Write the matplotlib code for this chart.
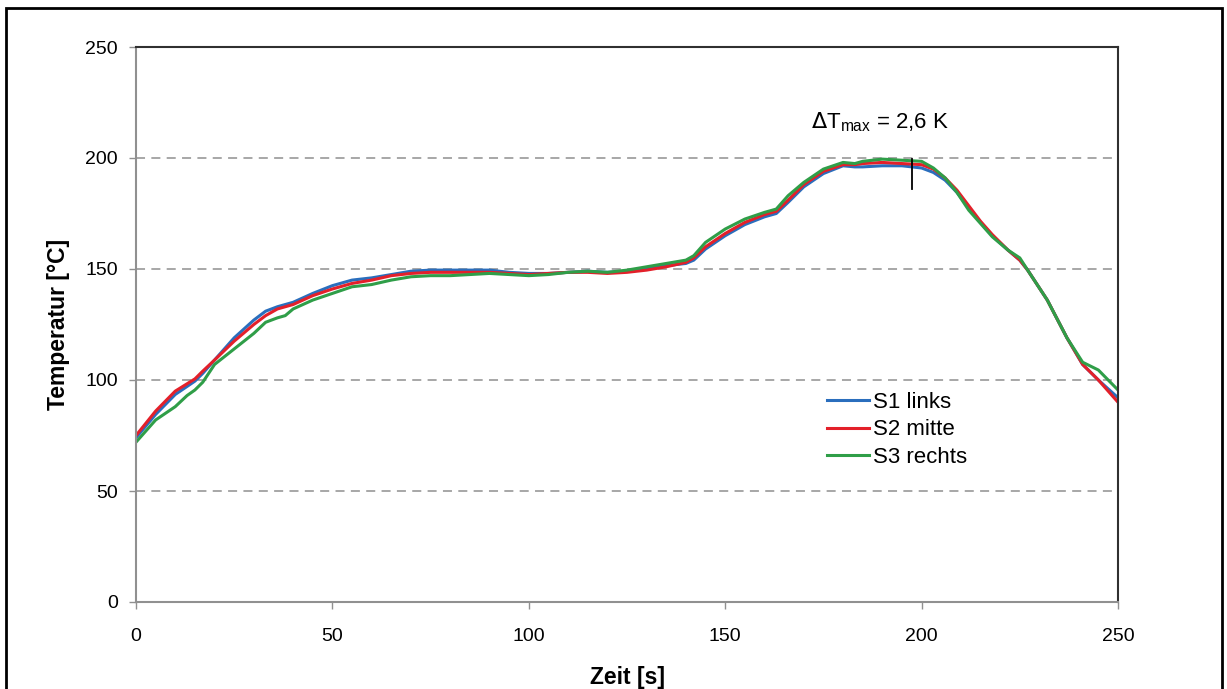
import numpy as np
import matplotlib
matplotlib.use("Agg")
import matplotlib.pyplot as plt
from matplotlib.patches import Rectangle

plt.rcParams['font.family'] = ['Liberation Sans', 'DejaVu Sans']

######## DATA

t1 = [0, 5, 10, 15, 17, 20, 25, 30, 33, 36, 40, 45, 50, 55, 60, 65, 70, 75, 80, 85, 90, 95,
      100, 105, 110, 115, 120, 125, 130, 135, 140, 142, 145, 150, 155, 160, 163, 166, 170, 175,
      180, 183, 185, 190, 195, 200, 203, 206, 209, 212, 215, 218, 222, 225, 227, 232, 237, 241, 245, 250]
s1_links = [74, 84.5, 93.5, 99.5, 103, 109, 119, 127, 131, 133, 135, 139, 142.5, 145, 146, 147.5, 149, 149.5,
            149.5, 149.5, 149.5, 148.5, 148, 148, 148.5, 149, 148.5, 149, 150, 151.5, 152.5, 154, 159,
            165, 170, 173.5, 175, 180, 187, 193, 196.5, 196, 196, 196.5, 196.5, 195.5, 193.5, 190, 184.5,
            177.5, 171, 165, 158.5, 154, 149.5, 136, 119, 107, 100, 92]
s2_mitte = [75, 86, 95, 100.5, 104, 109, 117.5, 125, 129, 132, 134, 138, 141, 143.5, 145, 147, 148, 148.5,
            148.5, 148.5, 148.5, 148, 147.5, 148, 148.5, 148.5, 148, 148.5, 149.5, 151, 153, 155, 160,
            166, 171, 174.5, 176, 181, 188, 194, 197, 197, 197.5, 198, 197.5, 197, 195, 191, 185.5,
            178.5, 171.5, 165.5, 158.5, 154, 149.5, 136, 119, 107, 100, 90]

t3 = [0, 5, 10, 13, 15, 17, 20, 25, 30, 33, 36, 38, 40, 45, 50, 55, 60, 65, 70, 75, 80, 85, 90, 95,
      100, 105, 110, 115, 120, 125, 130, 135, 140, 142, 145, 150, 155, 160, 163, 166, 170, 175,
      180, 183, 185, 190, 195, 200, 203, 206, 209, 212, 215, 218, 222, 225, 227, 232, 237, 241, 245, 250]
s3_rechts = [72, 82, 88, 93, 95.5, 99, 107, 114, 121, 126, 128, 129, 132, 136, 139, 142, 143, 145, 146.5,
             147, 147, 147.5, 148, 147.5, 147, 147.5, 148.5, 149, 148.5, 149.5, 151, 152.5, 154, 156,
             162, 168, 172.5, 175.5, 177, 183, 189, 195, 198, 197.5, 198.5, 199.5, 199, 198.5, 195.5, 191,
             184.5, 176.5, 170.5, 164.5, 158.5, 155, 149.5, 136, 119, 108, 104.5, 95.5]

######## PLOT

fig = plt.figure(figsize=(12.27, 6.89), dpi=100)
ax = fig.add_axes([136/1227, 1 - 602/689, 982/1227, 555/689])

ax.plot(t1, s1_links, color='#2a6ebd', lw=2.2, label='S1 links')
ax.plot(t1, s2_mitte, color='#e3202a', lw=2.2, label='S2 mitte')
ax.plot(t3, s3_rechts, color='#2f9e48', lw=2.2, label='S3 rechts')

ax.set_xlim(0, 250)
ax.set_ylim(0, 250)
ax.set_xticks(np.arange(0, 251, 50))
ax.set_yticks(np.arange(0, 251, 50))

for yv in [50, 100, 150, 200]:
	ax.axhline(yv, color='#a0a0a0', lw=1.3, ls=(0, (5, 3.5)), zorder=0)

ax.spines['left'].set_color('#909090')
ax.spines['bottom'].set_color('#909090')
ax.spines['top'].set_color('#303030')
ax.spines['right'].set_color('#303030')
for s in ax.spines.values():
	s.set_linewidth(1.5)

ax.tick_params(direction='out', length=5, width=1, color='#909090', labelsize=14)
ax.tick_params(axis='x', pad=14)
ax.tick_params(axis='y', pad=8)

ax.set_xlabel('Zeit [s]', fontsize=16.5, fontweight='bold', labelpad=15)
ax.set_ylabel('Temperatur [°C]', fontsize=16.5, fontweight='bold', labelpad=11)

# delta T marker
ax.plot([197.6, 197.6], [186, 199.5], color='black', lw=1.3)
ax.text(189.5, 216, r'$\Delta$T$_{\mathregular{max}}$ = 2,6 K', fontsize=16, ha='center', va='center')

leg = ax.legend(loc='upper left', bbox_to_anchor=(0.683, 0.415), frameon=False, fontsize=16,
                handlelength=1.9, handletextpad=0.2, labelspacing=0.3)

# outer frame
fig.patches.append(Rectangle((6/1227, -0.05), 1216/1227, 1.05 - 8/689, transform=fig.transFigure,
                             fill=False, edgecolor='black', lw=2))

fig.savefig('out.png', dpi=100)
